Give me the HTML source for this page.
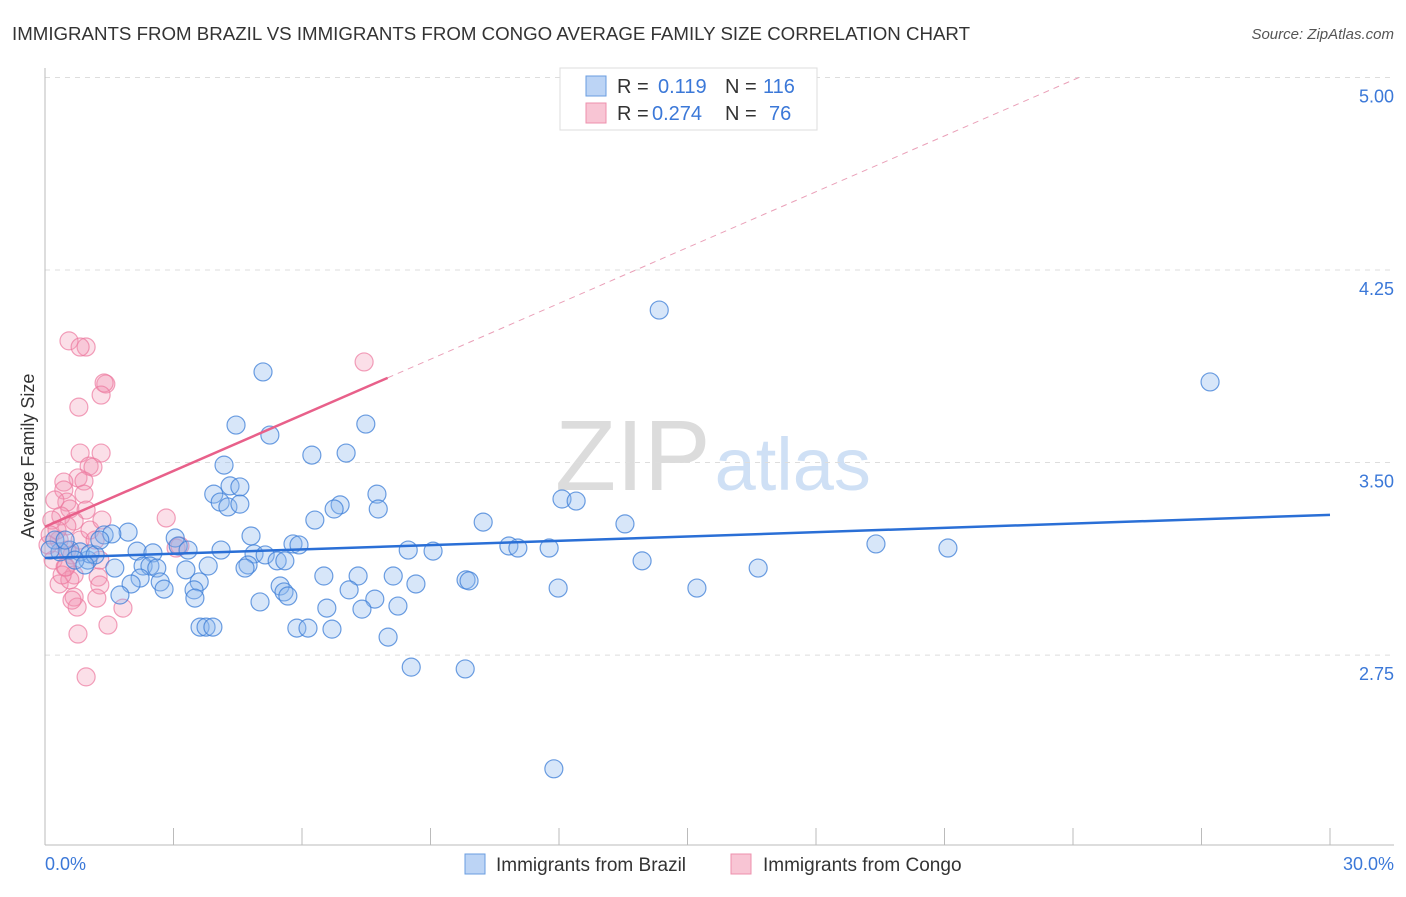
<!DOCTYPE html>
<html><head><meta charset="utf-8">
<style>
body{margin:0;background:#fff;font-family:"Liberation Sans",sans-serif;}
svg text{font-family:"Liberation Sans",sans-serif;}
</style></head>
<body>
<svg width="1406" height="892" viewBox="0 0 1406 892" id="chart">
<text x="12" y="40" font-size="18.7" fill="#333">IMMIGRANTS FROM BRAZIL VS IMMIGRANTS FROM CONGO AVERAGE FAMILY SIZE CORRELATION CHART</text>
<text x="1394" y="39" font-size="15" fill="#555" font-style="italic" text-anchor="end">Source: ZipAtlas.com</text>
<text x="555" y="490" font-size="100" fill="#dcdcdc" font-family="Liberation Serif">ZIP<tspan fill="#cfe0f5" font-family="Liberation Sans" font-size="74" dx="4">atlas</tspan></text>
<g id="grid"></g>
<g id="axes"></g>
<g id="pts"></g>
<g id="lines"></g>
<text transform="translate(34,456) rotate(-90)" font-size="18" fill="#333" text-anchor="middle">Average Family Size</text>
<text x="45" y="870" font-size="18" fill="#3b78d8">0.0%</text>
<text x="1394" y="870" font-size="18" fill="#3b78d8" text-anchor="end">30.0%</text>
<g>
<rect x="560" y="68" width="257" height="62" fill="#fff" stroke="#ddd"/>
<rect x="586" y="76" width="20" height="20" fill="#bcd4f5" stroke="#6a9de0"/>
<rect x="586" y="103" width="20" height="20" fill="#f8c5d4" stroke="#ee90ad"/>
<text y="93" font-size="20" fill="#333"><tspan x="617">R =</tspan><tspan x="658" fill="#3b78d8">0.119</tspan><tspan x="725">N =</tspan><tspan x="763" fill="#3b78d8">116</tspan></text>
<text y="120" font-size="20" fill="#333"><tspan x="617">R =</tspan><tspan x="652" fill="#3b78d8">0.274</tspan><tspan x="725">N =</tspan><tspan x="769" fill="#3b78d8">76</tspan></text>
</g>
<g>
<rect x="465" y="854" width="20" height="20" fill="#bcd4f5" stroke="#6a9de0"/>
<text x="496" y="871" font-size="19" fill="#333">Immigrants from Brazil</text>
<rect x="731" y="854" width="20" height="20" fill="#f8c5d4" stroke="#ee90ad"/>
<text x="763" y="871" font-size="19" fill="#333">Immigrants from Congo</text>
</g>
</svg>
<script>
const yTicks=[5.00,4.25,3.50,2.75];
const blueX=[14.34,27.20,5.09,4.46,5.25,7.49,6.23,7.03,4.18,3.94,4.32,4.55,4.09,4.27,4.55,7.75,6.89,6.75,7.78,12.07,12.40,10.23,6.30,13.54,4.81,1.38,1.94,1.56,5.79,5.93,19.40,21.08,10.83,11.04,11.77,8.48,9.06,3.04,3.11,3.34,2.15,2.52,4.11,4.88,5.14,5.42,5.60,4.74,4.67,13.94,16.65,1.00,1.63,2.29,2.45,2.61,3.29,3.81,2.22,2.69,3.60,2.01,6.51,7.31,8.13,7.10,5.49,8.66,9.83,9.90,11.98,15.22,2.78,3.48,5.58,5.67,3.50,5.02,7.70,8.24,6.58,7.40,1.75,3.62,3.76,3.92,5.88,6.14,6.70,8.01,8.55,9.81,11.88,0.58,0.82,1.05,0.35,0.23,1.17,1.28,0.12,0.47,0.70,0.93];
const blueY=[4.094,3.814,3.853,3.646,3.607,3.650,3.529,3.537,3.490,3.377,3.409,3.405,3.346,3.327,3.338,3.377,3.335,3.319,3.319,3.358,3.350,3.268,3.276,3.261,3.214,3.218,3.229,3.222,3.183,3.179,3.183,3.167,3.175,3.167,3.167,3.159,3.155,3.206,3.175,3.159,3.155,3.148,3.159,3.144,3.140,3.117,3.117,3.101,3.089,3.117,3.089,3.120,3.089,3.097,3.097,3.089,3.082,3.097,3.050,3.035,3.035,3.027,3.058,3.058,3.058,3.004,3.019,3.027,3.043,3.039,3.011,3.011,3.007,3.004,2.996,2.980,2.972,2.957,2.968,2.941,2.933,2.929,2.984,2.859,2.859,2.859,2.855,2.855,2.851,2.820,2.703,2.696,2.307,3.159,3.152,3.144,3.152,3.198,3.140,3.198,3.159,3.198,3.120,3.101];
const pinkX=[0.56,0.96,0.82,1.42,1.38,0.79,1.31,0.82,1.31,1.03,1.12,7.45,2.83,0.77,0.44,0.44,0.91,0.51,0.91,0.58,0.96,0.37,0.68,0.51,0.33,0.51,0.19,0.47,0.68,0.33,0.58,1.24,1.28,0.68,1.21,0.75,1.82,1.47,0.77,0.96,0.23,0.16,0.28,0.07,0.40,0.63,0.82,1.05,0.12,0.49,1.28,0.63,1.33,1.17,3.06,3.15];
const pinkY=[3.974,3.950,3.950,3.806,3.810,3.716,3.763,3.537,3.537,3.486,3.482,3.892,3.284,3.440,3.424,3.393,3.428,3.346,3.377,3.319,3.315,3.292,3.272,3.253,3.198,3.159,3.120,3.093,3.062,3.027,3.043,3.054,3.023,2.976,2.972,2.937,2.933,2.867,2.832,2.665,3.354,3.276,3.237,3.179,3.062,3.140,3.198,3.237,3.218,3.093,3.120,2.964,3.276,3.198,3.167,3.175];
const blueTrend=[3.128,3.296];
const pinkTrend=[3.250,3.830];
const pinkSolidEnd=8;
const NS='http://www.w3.org/2000/svg';
const X0=45,X1=1330,Y5=77.5,PPU=256.7;
function sx(p){return X0+(p/30)*(X1-X0);}
function sy(v){return Y5+(5-v)*PPU;}
function mk(tag,attrs,parent){const e=document.createElementNS(NS,tag);for(const k in attrs)e.setAttribute(k,attrs[k]);parent.appendChild(e);return e;}
const grid=document.getElementById('grid'),axes=document.getElementById('axes'),pts=document.getElementById('pts'),lines=document.getElementById('lines');
yTicks.forEach(t=>{
 const l=mk('line',{x1:X0,x2:1394,y1:sy(t),y2:sy(t),stroke:'#ddd','stroke-dasharray':'5,5'},grid);
 
 
 const tx=mk('text',{x:1394,y:sy(t)+25,'font-size':18,fill:'#3b78d8','text-anchor':'end'},grid);
 tx.textContent=t.toFixed(2);
 
 
});
const ax=mk('line',{x1:X0,x2:X0,y1:68,y2:845,stroke:'#bbb'},axes);


const bx=mk('line',{x1:X0,x2:1394,y1:845,y2:845,stroke:'#bbb'},axes);


for(let i=1;i<=10;i++){const t=mk('line',{x1:sx(i*3),x2:sx(i*3),y1:828,y2:845,stroke:'#bbb'},axes);
 
 }
pinkX.forEach((x,i)=>{const c=mk('circle',{cx:sx(x),cy:sy(pinkY[i]),r:9,fill:'rgba(243,150,180,0.3)',stroke:'rgba(236,120,158,0.7)','stroke-width':1.2},pts);
 
 });
blueX.forEach((x,i)=>{const c=mk('circle',{cx:sx(x),cy:sy(blueY[i]),r:9,fill:'rgba(140,182,238,0.35)',stroke:'rgba(60,125,215,0.75)','stroke-width':1.2},pts);
 
 });
const bl=mk('line',{x1:sx(0),y1:sy(blueTrend[0]),x2:sx(30),y2:sy(blueTrend[1]),stroke:'#2a6fd6','stroke-width':2.5},lines);


const slope=(pinkTrend[1]-pinkTrend[0])/pinkSolidEnd;
const xEnd=(5-pinkTrend[0])/slope;
const pd=mk('line',{x1:sx(pinkSolidEnd),y1:sy(pinkTrend[1]),x2:sx(xEnd),y2:sy(5),stroke:'#eaa0b8','stroke-width':1,'stroke-dasharray':'6,5'},lines);


const pl=mk('line',{x1:sx(0),y1:sy(pinkTrend[0]),x2:sx(pinkSolidEnd),y2:sy(pinkTrend[1]),stroke:'#e8608a','stroke-width':2.5},lines);


</script>
</body></html>
